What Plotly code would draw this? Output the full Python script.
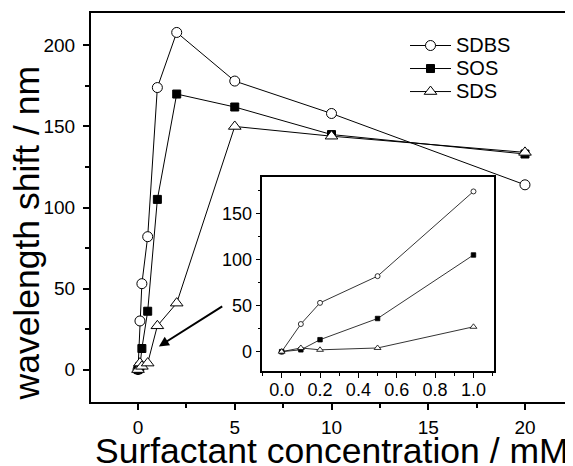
import plotly.graph_objects as go

# ---- data ----
concentration = [0, 0.1, 0.2, 0.5, 1, 2, 5, 10, 20]
sdbs = [0, 30, 53, 82, 174, 208, 178, 158, 114]
sos = [0, 2, 13, 36, 105, 170, 162, 145, 133]
sds = [0, 4, 2, 4, 27, 41, 150, 144, 134]
inset_n = 5  # inset shows 0 - 1 mM
series_names = ["SDBS", "SOS", "SDS"]

# window is 573x466; the page body has an 8px margin, so the figure is 565x458
OFF = 8
W, H = 573 - OFF, 466 - OFF
FONT = "Liberation Sans, Arial, sans-serif"

def px_x(p):
    return (p - OFF) / W

def px_y(p):
    return (H - (p - OFF)) / H

styles = [
    dict(symbol="circle", color="white", size=10, line=dict(color="black", width=1)),
    dict(symbol="square", color="black", size=8, line=dict(color="black", width=1)),
    dict(symbol="triangle-up", color="white", size=11, line=dict(color="black", width=1)),
]
inset_styles = [
    dict(symbol="circle", color="white", size=5, line=dict(color="black", width=0.8)),
    dict(symbol="square", color="black", size=4.5, line=dict(color="black", width=0.8)),
    dict(symbol="triangle-up", color="white", size=6, line=dict(color="black", width=0.8)),
]

fig = go.Figure()
for name, vals, st in zip(series_names, [sdbs, sos, sds], styles):
    fig.add_trace(go.Scatter(x=concentration, y=vals,
                             name='<span style="font-size:20px">' + name + '</span>',
                             mode="lines+markers",
                             line=dict(color="black", width=1), marker=st,
                             xaxis="x", yaxis="y"))
for name, vals, st in zip(series_names, [sdbs, sos, sds], inset_styles):
    fig.add_trace(go.Scatter(x=concentration[:inset_n], y=vals[:inset_n], name=name,
                             mode="lines+markers", showlegend=False,
                             line=dict(color="black", width=0.8), marker=st,
                             xaxis="x2", yaxis="y2"))

main_x = [px_x(91), px_x(572)]
main_y = [px_y(402), px_y(13)]
ins_x = [px_x(262.3), px_x(494)]
ins_y = [px_y(371), px_y(176.7)]
xr = [-2.43, 22.43]
yr = [-20, 220]
ixr = [-0.101, 1.107]
iyr = [-21, 190]

common = dict(showgrid=False, zeroline=False, linecolor="black", tickcolor="black",
              tickfont=dict(family=FONT, size=19, color="black"))
inset_font = dict(family=FONT, size=18, color="black")

layout = dict(
    width=W, height=H, autosize=False,
    margin=dict(l=0, r=0, t=0, b=0),
    paper_bgcolor="white", plot_bgcolor="white",
    font=dict(family=FONT, color="black"),
    xaxis=dict(domain=main_x, range=xr, anchor="y", showline=True, mirror=True, linewidth=2,
               ticks="outside", ticklen=6, tickwidth=1.5, dtick=5, tick0=0,
               minor=dict(ticks="outside", ticklen=4, tickwidth=1.5, dtick=2.5, tick0=0, tickcolor="black"),
               ticklabelstandoff=1, **common),
    yaxis=dict(domain=main_y, range=yr, anchor="x", showline=True, mirror=True, linewidth=2,
               ticks="outside", ticklen=6, tickwidth=1.5, dtick=50, tick0=0,
               minor=dict(ticks="outside", ticklen=4, tickwidth=1.5, dtick=25, tick0=0, tickcolor="black"),
               ticklabelstandoff=4, **common),
    xaxis3=dict(overlaying="x", side="top", anchor="y", range=xr, showline=False,
                ticks="inside", ticklen=6, tickwidth=1.5, dtick=5, tick0=0, showticklabels=False,
                minor=dict(ticks="inside", ticklen=4, tickwidth=1.5, dtick=2.5, tick0=0, tickcolor="black"),
                **common),
    yaxis3=dict(overlaying="y", side="right", anchor="x", range=yr, showline=False,
                ticks="inside", ticklen=6, tickwidth=1.5, dtick=50, tick0=0, showticklabels=False,
                minor=dict(ticks="inside", ticklen=4, tickwidth=1.5, dtick=25, tick0=0, tickcolor="black"),
                **common),
    xaxis2=dict(domain=ins_x, range=ixr, anchor="y2", showline=True, mirror=True, linewidth=1.5,
                ticks="outside", ticklen=5, tickwidth=1.2, dtick=0.2, tick0=0, tickformat=".1f",
                minor=dict(ticks="outside", ticklen=3, tickwidth=1.2, dtick=0.1, tick0=0, tickcolor="black"),
                ticklabelstandoff=-3,
                **{**common, "tickfont": inset_font}),
    yaxis2=dict(domain=ins_y, range=iyr, anchor="x2", showline=True, mirror=True, linewidth=1.5,
                ticks="outside", ticklen=5, tickwidth=1.2, dtick=50, tick0=0,
                minor=dict(ticks="outside", ticklen=3, tickwidth=1.2, dtick=25, tick0=0, tickcolor="black"),
                **{**common, "tickfont": inset_font}),
    xaxis4=dict(overlaying="x2", side="top", anchor="y2", range=ixr, showline=False,
                ticks="inside", ticklen=5, tickwidth=1.2, dtick=0.2, tick0=0, showticklabels=False,
                minor=dict(ticks="inside", ticklen=3, tickwidth=1.2, dtick=0.1, tick0=0, tickcolor="black"),
                **common),
    yaxis4=dict(overlaying="y2", side="right", anchor="x2", range=iyr, showline=False,
                ticks="inside", ticklen=5, tickwidth=1.2, dtick=50, tick0=0, showticklabels=False,
                minor=dict(ticks="inside", ticklen=3, tickwidth=1.2, dtick=25, tick0=0, tickcolor="black"),
                **common),
    legend=dict(x=px_x(405), y=px_y(29), xanchor="left", yanchor="top",
                bgcolor="rgba(0,0,0,0)", font=dict(family=FONT, size=15.4, color="black"),
                itemwidth=41, tracegroupgap=0),
    showlegend=True,
    annotations=[
        dict(text="wavelength shift / nm", xref="paper", yref="paper",
             x=px_x(27), y=px_y(233.5), textangle=-90, showarrow=False,
             xanchor="center", yanchor="middle",
             font=dict(family=FONT, size=35.5, color="black")),
        dict(text="Surfactant concentration / mM", xref="paper", yref="paper",
             x=px_x(332), y=px_y(451), showarrow=False,
             xanchor="center", yanchor="middle",
             font=dict(family=FONT, size=35.5, color="black")),
        dict(text="", x=1.08, y=14.3, ax=4.43, ay=39.6, xref="x", yref="y",
             axref="x", ayref="y", showarrow=True, arrowhead=2, arrowsize=1,
             arrowwidth=2, arrowcolor="black"),
    ],
)
fig.update_layout(**layout)
fig.write_html("out.html")
